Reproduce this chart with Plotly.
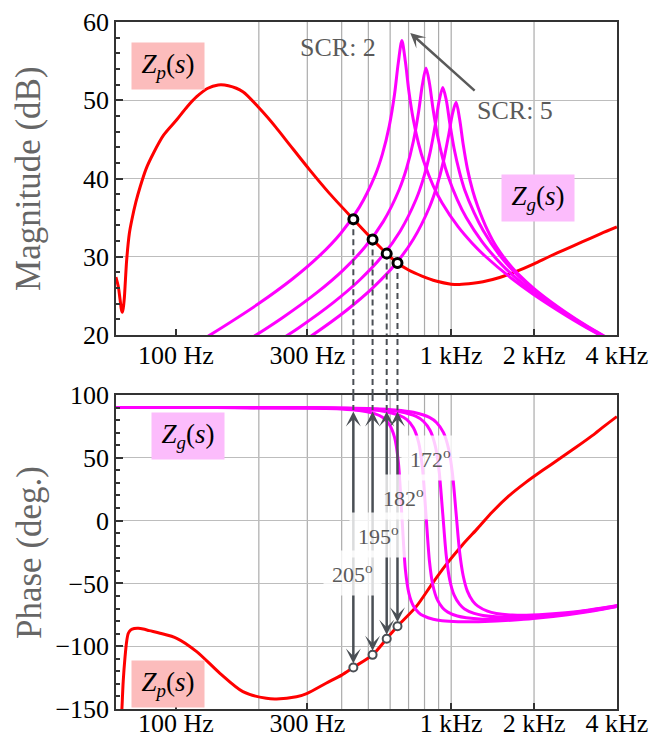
import math
import plotly.graph_objects as go

# ---------------- frequency axis ----------------
F_LOG_RANGE = [1.782, 3.6025]
tick_freqs = [100, 300, 1000, 2000, 4000]
tick_labels = ["100 Hz", "300 Hz", "1 kHz", "2 kHz", "4 kHz"]
grid_freqs = [200, 300, 400, 500, 600, 700, 800, 900, 1000, 2000]

# ---------------- converter impedance Zp(s) ----------------
zp_mag_freq = [60.5, 61.7, 62.6, 63.3, 63.8, 64.3, 64.9, 65.5, 66.2, 67.7,
               69.1, 71.5, 74.1, 78, 82.7, 90, 100.6, 110, 118.9, 130,
               142.4, 155, 175, 201, 230, 259, 306, 361, 441, 518,
               583, 638, 700, 787, 880, 1000, 1070, 1200, 1305, 1500,
               1716, 2000, 2265, 2600, 2990, 3500, 4000]
zp_mag_db = [27.4, 26.2, 24.6, 23.3, 22.9, 23.4, 24.7, 27.0, 29.6, 33.0,
             34.7, 37.0, 38.95, 41.3, 43.2, 45.5, 47.5, 49.2, 50.45, 51.5,
             51.95, 51.85, 51.1, 48.97, 46.6, 44.3, 41.1, 38.1, 34.8, 32.2,
             30.4, 29.2, 28.3, 27.5, 26.9, 26.5, 26.45, 26.6, 26.8, 27.35,
             28.1, 29.1, 30.0, 30.95, 31.9, 32.95, 33.8]

zp_ph_freq = [61.5, 63.0, 63.6, 64.3, 65.3, 66.2, 67.1, 68.5, 70.5, 73,
              76, 80, 87.5, 100.6, 118.9, 144.4, 175, 213, 232, 274,
              300, 351, 400, 441, 518, 583, 638, 746, 855, 957,
              1098, 1250, 1410, 1620, 1862, 2150, 2467, 2850, 3254, 3600,
              4000]
zp_ph_deg = [-190, -165, -150, -128, -108.3, -96, -89.7, -87, -85.9, -85.7,
             -86.3, -87.6, -89.7, -93.7, -104.3, -121.6, -136.2, -141.5, -142.0, -140.2,
             -137.5, -129.5, -123, -116.9, -106.9, -94.0, -84.1, -68.5, -49.9, -35.3,
             -19.4, -6.0, 6.8, 19.6, 30.2, 40.0, 49.0, 58.5, 67.6, 75.2,
             82.8]

# ---------------- grid impedance Zg(s) for SCR = 2, 3, 4, 5 ----------------
zg_freq_scr2 = [55, 66.2, 99.3, 132.4, 198.6, 264.8, 331, 397.2, 463.4, 529.6,
                562.7, 595.8, 622.3, 642.1, 662, 681.9, 701.7, 728.2, 761.3, 794.4,
                860.6, 926.8, 1059, 1192, 1324, 1655, 1986, 2648, 3310, 3972]
zg_mag_scr2 = [12.0, 13.68, 17.31, 19.96, 23.95, 27.15, 30.07, 33.01, 36.31, 40.44,
               43.15, 46.73, 50.73, 54.74, 57.62, 54.88, 51.16, 47.55, 44.44, 42.20,
               39.06, 36.86, 33.84, 31.73, 30.13, 27.25, 25.22, 22.38, 20.38, 18.85]
zg_ph_scr2 = [90, 90, 90, 90, 89.9, 89.7, 89.4, 88.8, 87.6, 84.9,
              82.2, 76.6, 66.4, 47.5, 3.6, -39.5, -57.8, -67.8, -73.2, -75.9,
              -78.6, -79.7, -80.5, -80.6, -80.4, -79.3, -78.0, -74.9, -71.8, -68.7]

zg_freq_scr3 = [55, 81, 121.5, 162, 243, 324, 405, 486, 567, 648,
                688.5, 729, 761.4, 785.7, 810, 834.3, 858.6, 891, 931.5, 972,
                1053, 1134, 1296, 1458, 1620, 2025, 2430, 3240, 4050]
zg_mag_scr3 = [8.5, 11.91, 15.54, 18.19, 22.18, 25.38, 28.30, 31.24, 34.52, 38.63,
               41.31, 44.79, 48.54, 51.98, 54.12, 52.11, 48.94, 45.58, 42.58, 40.39,
               37.27, 35.0, 31.9, 29.75, 28.1, 25.3, 23.4, 20.65, 18.75]
zg_ph_scr3 = [90, 90, 90, 89.9, 89.9, 89.7, 89.3, 88.5, 87.1, 83.8,
              80.5, 73.9, 62.3, 42.6, 4.4, -33.0, -51.9, -63.2, -69.6, -72.9,
              -76.0, -77.4, -78.5, -78.6, -78.3, -77.0, -75.4, -71.7, -68.0]

zg_freq_scr4 = [55, 93.2, 139.8, 186.4, 279.6, 372.8, 466, 559.2, 652.4, 745.6,
                792.2, 838.8, 876.1, 904, 932, 960, 988, 1025, 1072, 1118,
                1212, 1305, 1491, 1678, 1864, 2330, 2796, 3728, 4660]
zg_mag_scr4 = [6.0, 10.67, 14.30, 16.95, 20.94, 24.14, 27.06, 29.99, 33.27, 37.35,
               39.99, 43.38, 46.92, 49.92, 51.63, 50.0, 47.1, 43.8, 40.8, 38.6,
               35.6, 33.4, 30.3, 28.2, 26.7, 24.0, 22.1, 19.5, 17.7]
zg_ph_scr4 = [90, 90, 90, 89.9, 89.8, 89.6, 89.2, 88.3, 86.6, 82.9,
              79.1, 71.7, 59.1, 39.3, 5.1, -28.3, -47.3, -59.4, -66.5, -70.3,
              -73.9, -75.5, -76.7, -76.8, -76.5, -75.0, -73.1, -69.0, -65.0]

zg_freq_scr5 = [55, 104.2, 156.3, 208.4, 312.6, 416.8, 521, 625.2, 729.4, 833.6,
                885.7, 937.8, 979.5, 1011, 1042, 1073, 1105, 1146, 1198, 1250,
                1355, 1459, 1667, 1876, 2084, 2605, 3126, 4168]
zg_mag_scr5 = [4.1, 9.69, 13.32, 15.97, 19.96, 23.16, 26.08, 29.00, 32.27, 36.33,
               38.94, 42.25, 45.60, 48.29, 49.73, 47.6, 44.4, 41.2, 38.4, 36.4,
               33.4, 31.3, 28.6, 26.8, 25.4, 22.9, 21.1, 18.6]
zg_ph_scr5 = [90, 90, 90, 89.9, 89.8, 89.6, 89.05, 88.1, 86.2, 82.1,
              77.9, 70.0, 56.7, 37.1, 5.7, -25.0, -43.7, -56.4, -64.1, -68.1,
              -72.1, -73.9, -75.2, -75.4, -75.0, -73.4, -71.3, -66.9]

zg_sets = [
    (zg_freq_scr2, zg_mag_scr2, zg_ph_scr2),
    (zg_freq_scr3, zg_mag_scr3, zg_ph_scr3),
    (zg_freq_scr4, zg_mag_scr4, zg_ph_scr4),
    (zg_freq_scr5, zg_mag_scr5, zg_ph_scr5),
]

# ---------------- magnitude crossings and phase differences ----------------
cross_freq = [441, 518, 583, 638]
cross_mag_db = [34.8, 32.2, 30.4, 29.2]
zg_phase_cross = [88.1, 88.1, 88.0, 87.9]
phase_diff_deg = [205, 195, 182, 172]
zp_phase_cross = [g - d for g, d in zip(zg_phase_cross, phase_diff_deg)]

phase_label_freq = [439, 546, 672, 843]
phase_label_deg = [-42.0, -11.5, 18.8, 49.8]

# ---------------- styling ----------------
RED = "#ff0000"
MAGENTA = "#ff00ff"
DARK = "#4a4f55"
TEXT_GRAY = "#5a5a5a"
FONT = "Liberation Serif, Times New Roman, serif"
LINE_W = 3

fig = go.Figure()

# magnitude panel
fig.add_trace(go.Scatter(x=zp_mag_freq, y=zp_mag_db, mode="lines",
                         line=dict(color=RED, width=LINE_W, shape="spline", smoothing=0.8),
                         xaxis="x", yaxis="y"))
for f, m, _ in zg_sets:
    fig.add_trace(go.Scatter(x=f, y=m, mode="lines",
                             line=dict(color=MAGENTA, width=LINE_W, shape="spline", smoothing=0.8),
                             xaxis="x", yaxis="y"))

# phase panel
fig.add_trace(go.Scatter(x=zp_ph_freq, y=zp_ph_deg, mode="lines",
                         line=dict(color=RED, width=LINE_W, shape="spline", smoothing=0.8),
                         xaxis="x2", yaxis="y2"))
for f, _, p in zg_sets:
    fig.add_trace(go.Scatter(x=f, y=p, mode="lines",
                             line=dict(color=MAGENTA, width=LINE_W, shape="spline", smoothing=0.8),
                             xaxis="x2", yaxis="y2"))

# dashed drop lines: magnitude crossing -> phase panel
DASH = "6px,4px"
for f, m, g in zip(cross_freq, cross_mag_db, zg_phase_cross):
    fig.add_trace(go.Scatter(x=[f, f], y=[m, 20], mode="lines",
                             line=dict(color=DARK, width=2, dash=DASH),
                             xaxis="x", yaxis="y"))
    fig.add_trace(go.Scatter(x=[f, f], y=[100, g], mode="lines",
                             line=dict(color=DARK, width=2, dash=DASH),
                             xaxis="x2", yaxis="y2"))

fig.add_trace(go.Scatter(x=cross_freq, y=cross_mag_db, mode="markers",
                         marker=dict(symbol="circle", size=9, color="white",
                                     line=dict(color="black", width=3)),
                         xaxis="x", yaxis="y"))
fig.add_trace(go.Scatter(x=cross_freq, y=zp_phase_cross, mode="markers",
                         marker=dict(symbol="circle", size=8, color="white",
                                     line=dict(color=DARK, width=2)),
                         xaxis="x2", yaxis="y2"))

TOP_DOM = [0.5444, 1.0]
BOT_DOM = [0.0, 0.4571]

shapes = []
for xr, yr in (("x", "y domain"), ("x2", "y2 domain")):
    for gf in grid_freqs:
        shapes.append(dict(type="line", xref=xr, yref=yr, x0=gf, x1=gf, y0=0, y1=1,
                           line=dict(color="#ababab", width=1.2), layer="below"))
# drop lines across the gap between the panels
for f in cross_freq:
    shapes.append(dict(type="line", xref="x", yref="paper", x0=f, x1=f,
                       y0=BOT_DOM[1], y1=TOP_DOM[0],
                       line=dict(color=DARK, width=2, dash=DASH)))

annotations = []

# double-headed phase-difference arrows
for f, zp, zg in zip(cross_freq, zp_phase_cross, zg_phase_cross):
    annotations.append(dict(
        xref="x2", yref="y2", axref="x2", ayref="y2",
        x=math.log10(f), y=zp, ax=math.log10(f), ay=zg,
        text="", showarrow=True, arrowside="end+start",
        arrowhead=3, startarrowhead=3, arrowsize=1.0, startarrowsize=1.0,
        arrowwidth=2.5, arrowcolor=DARK, standoff=4, startstandoff=0))

# phase difference labels
for f, y, d in zip(phase_label_freq, phase_label_deg, phase_diff_deg):
    annotations.append(dict(
        xref="x2", yref="y2", x=math.log10(f), y=y,
        xanchor="center", yanchor="middle",
        text=f"{d}<sup>o</sup>", showarrow=False,
        font=dict(family=FONT, size=22, color=TEXT_GRAY),
        bgcolor="rgba(255,255,255,0.8)", borderpad=8))

# SCR arrow and labels
annotations.append(dict(
    xref="x", yref="y", axref="x", ayref="y",
    x=math.log10(710), y=58.6, ax=math.log10(1232), ay=51.05,
    text="", showarrow=True, arrowhead=3, arrowsize=1.0, arrowwidth=2.5,
    arrowcolor=TEXT_GRAY))
annotations.append(dict(xref="x", yref="y", x=math.log10(387), y=56.8, text="SCR: 2",
                        xanchor="center", yanchor="middle",
                        showarrow=False, font=dict(family=FONT, size=26, color=TEXT_GRAY)))
annotations.append(dict(xref="x", yref="y", x=math.log10(1700), y=48.75, text="SCR: 5",
                        xanchor="center", yanchor="middle",
                        showarrow=False, font=dict(family=FONT, size=26, color=TEXT_GRAY)))

# impedance name tags
ZP_TXT = "<i>Z</i><sub><i>p</i></sub>(<i>s</i>)"
ZG_TXT = "<i>Z</i><sub><i>g</i></sub>(<i>s</i>)"
ZP_BG = "rgb(252,188,188)"
ZG_BG = "rgb(252,188,252)"
for txt, bg, px, py in ((ZP_TXT, ZP_BG, 0.1038, 0.936),
                        (ZG_TXT, ZG_BG, 0.8433, 0.7438),
                        (ZG_TXT, ZG_BG, 0.1447, 0.3967),
                        (ZP_TXT, ZP_BG, 0.1038, 0.0364)):
    annotations.append(dict(xref="paper", yref="paper", x=px, y=py, text=txt,
                            xanchor="center", yanchor="middle",
                            showarrow=False, bgcolor=bg, width=70, height=44,
                            borderpad=1, valign="middle",
                            font=dict(family=FONT, size=27, color="black")))

# axis titles
annotations.append(dict(xref="paper", yref="paper", x=-0.1737, y=0.773,
                        xanchor="center", yanchor="middle",
                        text="Magnitude (dB)", textangle=-90, showarrow=False,
                        font=dict(family=FONT, size=35, color="#666666")))
annotations.append(dict(xref="paper", yref="paper", x=-0.1737, y=0.2285,
                        xanchor="center", yanchor="middle",
                        text="Phase (deg.)", textangle=-90, showarrow=False,
                        font=dict(family=FONT, size=35, color="#666666")))

x_common = dict(type="log", range=F_LOG_RANGE, tickmode="array",
                tickvals=tick_freqs, ticktext=tick_labels,
                ticks="inside", ticklen=6, tickwidth=1.5, tickcolor="#333333",
                showgrid=False, zeroline=False, showline=True, mirror=True,
                linecolor="#333333", linewidth=1.5, automargin=False,
                tickfont=dict(family=FONT, size=26, color="black"))
y_common = dict(ticks="inside", ticklen=7, tickwidth=1.5, tickcolor="#333333",
                showgrid=True, gridcolor="#bdbdbd", gridwidth=1.2,
                zeroline=False, showline=True, mirror=True,
                linecolor="#333333", linewidth=1.5, automargin=False,
                tickfont=dict(family=FONT, size=26, color="black"))

fig.update_layout(
    template="none",
    width=653, height=740,
    margin=dict(l=116, r=36, t=22, b=31, autoexpand=False),
    paper_bgcolor="white", plot_bgcolor="white",
    showlegend=False,
    font=dict(family=FONT, size=26, color="black"),
    xaxis=dict(domain=[0, 1], anchor="y", ticklabelstandoff=-4, **x_common),
    yaxis=dict(domain=TOP_DOM, anchor="x", range=[20, 60], dtick=10,
               minor=dict(dtick=2, ticks="inside", ticklen=4, tickcolor="#333333",
                          showgrid=False),
               **y_common),
    xaxis2=dict(domain=[0, 1], anchor="y2", ticklabelstandoff=-10, **x_common),
    yaxis2=dict(domain=BOT_DOM, anchor="x2", range=[-150, 100], dtick=50,
                minor=dict(dtick=10, ticks="inside", ticklen=4, tickcolor="#333333",
                           showgrid=False),
                **y_common),
    shapes=shapes,
    annotations=annotations,
)

fig.write_html("out.html")
